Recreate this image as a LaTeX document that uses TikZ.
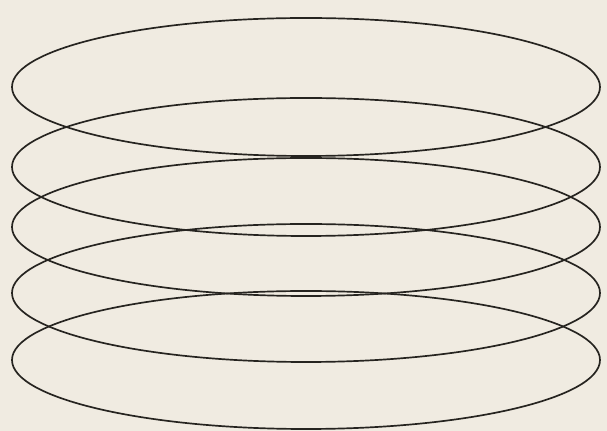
\documentclass[tikz,border=0pt]{standalone}
\usepackage{xcolor}
\definecolor{paper}{HTML}{F0EBE1}
\definecolor{ink}{HTML}{262420}
\tikzset{ring/.style={draw=ink, line width=1.2pt}}

\begin{document}
\begin{tikzpicture}[x=0.025cm, y=-0.025cm]
            \fill[paper] (0,0) rectangle (607,431);
            \useasboundingbox (0,0) rectangle (607,431);
            \coordinate (a) at (306,87); \coordinate (b) at (306,167); \coordinate (c) at (306,227); \coordinate (d) at (306,293); \coordinate (e) at (306,360);
            % Anneaux
            \draw[ring] (a) ellipse [x radius=294, y radius=69];
            \draw[ring] (b) ellipse [x radius=294, y radius=69];
            \draw[ring] (c) ellipse [x radius=294, y radius=69];
            \draw[ring] (d) ellipse [x radius=294, y radius=69];
            \draw[ring] (e) ellipse [x radius=294, y radius=69];
        \end{tikzpicture}
\end{document}
